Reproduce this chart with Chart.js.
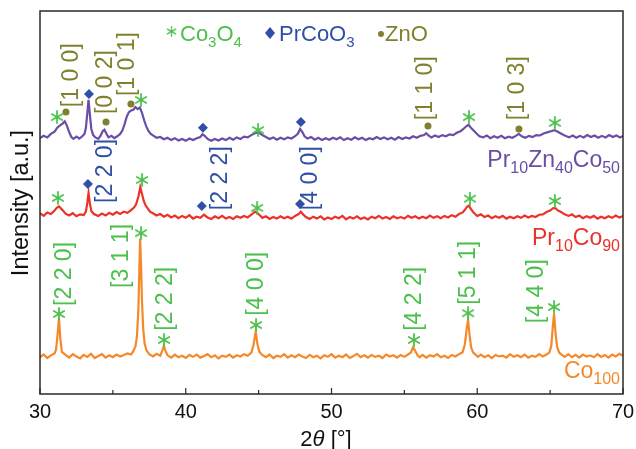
<!DOCTYPE html>
<html>
<head>
<meta charset="utf-8">
<script src="https://cdn.jsdelivr.net/npm/chart.js@4.4.1/dist/chart.umd.min.js"></script>
<style>
	body { margin: 0; background: #fff; }
	canvas { display: block; }
</style>
</head>
<body>
<canvas id="xrd" width="636" height="449"></canvas>
<script>
// 2θ [°] and intensity [a.u.] (offset traces, 0-100)
const co100 = [
	[30.0, 9.6], [30.25, 10.3], [30.5, 9.4], [30.75, 10.1], [31.0, 10.6], [31.1, 11.6], [31.2, 15.2], [31.3, 19.8], [31.4, 14.2], [31.5, 11.0],
	[31.75, 10.2], [32.0, 9.5], [32.25, 10.4], [32.5, 9.8], [32.75, 9.3], [33.0, 10.2], [33.25, 9.7], [33.5, 10.5], [33.75, 9.4], [34.0, 9.9],
	[34.25, 10.4], [34.5, 9.5], [34.75, 10.1], [35.0, 9.6], [35.25, 10.3], [35.5, 9.8], [35.75, 10.2], [36.0, 10.6], [36.25, 10.3], [36.4, 11.2],
	[36.55, 12.4], [36.65, 15.0], [36.75, 22.0], [36.82, 33.0], [36.87, 40.5], [36.93, 34.0], [37.0, 24.0], [37.08, 17.0], [37.18, 13.2], [37.3, 11.4],
	[37.5, 10.4], [37.75, 9.8], [38.0, 10.5], [38.25, 10.0], [38.4, 11.4], [38.5, 12.6], [38.6, 11.3], [38.75, 10.1], [39.0, 9.5], [39.25, 10.3],
	[39.5, 9.6], [39.75, 10.0], [40.0, 9.4], [40.25, 10.2], [40.5, 9.7], [40.75, 10.3], [41.0, 9.5], [41.25, 9.9], [41.5, 10.4], [41.75, 9.6],
	[42.0, 10.1], [42.25, 9.3], [42.5, 10.0], [42.75, 9.7], [43.0, 10.3], [43.25, 9.5], [43.5, 10.1], [43.75, 9.8], [44.0, 10.4], [44.25, 10.0],
	[44.5, 10.8], [44.65, 12.8], [44.8, 16.3], [44.92, 13.0], [45.05, 11.0], [45.25, 10.2], [45.5, 9.6], [45.75, 10.3], [46.0, 9.4], [46.25, 10.0],
	[46.5, 9.7], [46.75, 10.4], [47.0, 9.5], [47.25, 10.1], [47.5, 9.6], [47.75, 10.3], [48.0, 9.8], [48.25, 9.4], [48.5, 10.2], [48.75, 9.6],
	[49.0, 10.0], [49.25, 9.3], [49.5, 10.1], [49.75, 9.7], [50.0, 10.4], [50.25, 9.5], [50.5, 10.0], [50.75, 9.6], [51.0, 10.3], [51.25, 9.4],
	[51.5, 9.9], [51.75, 10.5], [52.0, 9.6], [52.25, 10.1], [52.5, 9.5], [52.75, 10.2], [53.0, 9.7], [53.25, 10.0], [53.5, 9.4], [53.75, 10.3],
	[54.0, 9.8], [54.25, 10.1], [54.5, 9.5], [54.75, 10.2], [55.0, 9.7], [55.25, 10.3], [55.45, 10.9], [55.6, 12.2], [55.72, 11.4], [55.9, 10.1],
	[56.05, 9.6], [56.25, 10.2], [56.5, 9.5], [56.75, 10.1], [57.0, 9.8], [57.25, 10.4], [57.5, 9.6], [57.75, 10.0], [58.0, 9.4], [58.25, 10.2],
	[58.5, 9.8], [58.75, 10.4], [59.0, 10.9], [59.15, 13.0], [59.28, 17.2], [59.37, 19.4], [59.47, 15.5], [59.58, 12.2], [59.72, 10.8], [59.9, 10.2],
	[60.05, 9.7], [60.25, 10.3], [60.5, 9.6], [60.75, 10.1], [61.0, 9.4], [61.25, 10.2], [61.5, 9.8], [61.75, 10.0], [62.0, 9.5], [62.25, 10.4],
	[62.5, 9.7], [62.75, 10.1], [63.0, 9.6], [63.25, 10.3], [63.5, 9.5], [63.75, 10.0], [64.0, 9.7], [64.25, 10.4], [64.5, 9.8], [64.75, 10.3],
	[64.95, 10.9], [65.08, 12.6], [65.18, 17.5], [65.27, 20.9], [65.37, 16.0], [65.48, 12.3], [65.62, 10.8], [65.8, 10.2], [66.0, 9.7], [66.25, 10.4],
	[66.5, 9.6], [66.75, 10.2], [67.0, 9.5], [67.25, 10.3], [67.5, 9.8], [67.75, 10.1], [68.0, 9.6], [68.25, 10.4], [68.5, 9.7], [68.75, 10.2],
	[69.0, 9.5], [69.25, 10.3], [69.5, 9.8], [69.75, 10.5], [70.0, 10.0]
];

const pr10co90 = [
	[30.0, 47.2], [30.25, 46.5], [30.5, 47.4], [30.75, 47.0], [31.0, 47.9], [31.15, 48.6], [31.3, 49.0], [31.45, 48.4], [31.6, 47.8], [31.75, 47.1],
	[32.0, 46.6], [32.25, 47.2], [32.5, 46.4], [32.75, 46.9], [33.0, 46.7], [33.15, 47.6], [33.25, 50.0], [33.33, 52.5], [33.42, 49.8], [33.52, 47.8],
	[33.7, 47.0], [34.0, 46.5], [34.25, 47.1], [34.5, 46.6], [34.75, 47.3], [35.0, 46.8], [35.25, 47.5], [35.5, 47.0], [35.75, 47.6], [36.0, 47.3],
	[36.25, 48.0], [36.45, 48.7], [36.6, 49.6], [36.75, 51.5], [36.88, 54.0], [37.0, 52.2], [37.12, 50.4], [37.25, 49.2], [37.4, 48.4], [37.55, 47.6],
	[37.75, 47.2], [38.0, 46.6], [38.25, 47.0], [38.5, 46.3], [38.75, 46.8], [39.0, 46.1], [39.25, 46.6], [39.5, 45.9], [39.75, 46.5], [40.0, 46.0],
	[40.25, 46.7], [40.5, 45.8], [40.75, 46.3], [41.0, 46.0], [41.25, 46.8], [41.5, 46.1], [41.75, 45.7], [42.0, 46.4], [42.25, 45.9], [42.5, 46.5],
	[42.75, 45.8], [43.0, 46.2], [43.25, 45.7], [43.5, 46.4], [43.75, 46.0], [44.0, 46.5], [44.25, 46.1], [44.5, 46.8], [44.75, 47.6], [44.9, 47.3],
	[45.1, 46.6], [45.25, 46.0], [45.5, 46.4], [45.75, 45.7], [46.0, 46.2], [46.25, 45.8], [46.5, 46.4], [46.75, 45.9], [47.0, 46.3], [47.25, 45.8],
	[47.5, 46.5], [47.75, 47.0], [47.9, 47.6], [48.05, 46.9], [48.25, 46.2], [48.5, 45.7], [48.75, 46.3], [49.0, 45.8], [49.25, 46.4], [49.5, 45.6],
	[49.75, 46.1], [50.0, 45.7], [50.25, 46.3], [50.5, 45.9], [50.75, 46.5], [51.0, 45.6], [51.25, 46.2], [51.5, 45.8], [51.75, 46.4], [52.0, 45.7],
	[52.25, 46.1], [52.5, 45.6], [52.75, 46.3], [53.0, 45.9], [53.25, 46.5], [53.5, 45.8], [53.75, 46.2], [54.0, 45.7], [54.25, 46.4], [54.5, 45.9],
	[54.75, 46.2], [55.0, 45.8], [55.25, 46.5], [55.5, 46.0], [55.75, 46.4], [56.0, 45.8], [56.25, 46.3], [56.5, 45.9], [56.75, 46.6], [57.0, 46.0],
	[57.25, 46.4], [57.5, 45.9], [57.75, 46.5], [58.0, 46.1], [58.25, 46.7], [58.5, 46.3], [58.75, 47.0], [59.0, 47.4], [59.15, 48.1], [59.3, 48.9],
	[59.42, 49.2], [59.55, 48.4], [59.7, 47.6], [59.85, 47.0], [60.0, 46.5], [60.25, 46.9], [60.5, 46.2], [60.75, 46.6], [61.0, 45.9], [61.25, 46.4],
	[61.5, 46.0], [61.75, 46.5], [62.0, 45.8], [62.25, 46.3], [62.5, 45.9], [62.75, 46.4], [63.0, 46.0], [63.25, 46.6], [63.5, 46.1], [63.75, 46.5],
	[64.0, 46.2], [64.25, 46.8], [64.5, 46.9], [64.75, 47.5], [65.0, 47.9], [65.2, 48.5], [65.35, 48.6], [65.5, 48.0], [65.75, 47.5], [66.0, 46.9],
	[66.25, 46.5], [66.5, 46.9], [66.75, 46.2], [67.0, 46.6], [67.25, 45.9], [67.5, 46.4], [67.75, 46.0], [68.0, 46.5], [68.25, 45.8], [68.5, 46.3],
	[68.75, 45.9], [69.0, 46.4], [69.25, 46.0], [69.5, 46.6], [69.75, 46.1], [70.0, 46.5]
];

const pr10zn40co50 = [
	[30.0, 66.8], [30.25, 67.4], [30.5, 67.0], [30.75, 67.9], [31.0, 68.5], [31.2, 69.6], [31.4, 70.2], [31.55, 70.6], [31.7, 71.2], [31.85, 70.0],
	[32.0, 68.4], [32.15, 67.1], [32.3, 66.6], [32.5, 67.2], [32.7, 66.7], [32.9, 67.3], [33.05, 67.9], [33.15, 69.5], [33.25, 73.5], [33.33, 76.8],
	[33.42, 73.0], [33.52, 69.2], [33.65, 67.6], [33.8, 67.0], [34.0, 66.6], [34.15, 67.4], [34.3, 68.6], [34.42, 69.0], [34.55, 68.0], [34.7, 67.0],
	[34.9, 67.4], [35.1, 66.8], [35.3, 67.3], [35.5, 67.9], [35.65, 68.8], [35.8, 70.4], [35.95, 72.4], [36.1, 73.6], [36.25, 74.0], [36.4, 74.2],
	[36.55, 74.9], [36.7, 74.4], [36.85, 74.8], [37.0, 73.4], [37.15, 71.4], [37.3, 69.8], [37.45, 68.6], [37.6, 67.9], [37.8, 67.4], [38.0, 66.9],
	[38.25, 67.1], [38.5, 66.5], [38.75, 66.9], [39.0, 66.3], [39.25, 66.8], [39.5, 66.2], [39.75, 66.6], [40.0, 66.1], [40.25, 66.7], [40.5, 66.3],
	[40.75, 66.8], [41.0, 67.1], [41.15, 67.8], [41.3, 67.4], [41.5, 66.6], [41.75, 66.1], [42.0, 66.6], [42.25, 66.2], [42.5, 66.7], [42.75, 66.3],
	[43.0, 66.9], [43.25, 66.4], [43.5, 67.0], [43.75, 66.6], [44.0, 67.2], [44.25, 67.0], [44.5, 67.6], [44.75, 68.1], [45.0, 68.3], [45.25, 67.6],
	[45.5, 67.1], [45.75, 66.6], [46.0, 67.0], [46.25, 66.4], [46.5, 66.9], [46.75, 66.5], [47.0, 67.0], [47.25, 66.7], [47.5, 67.3], [47.7, 68.0],
	[47.85, 69.2], [48.0, 68.4], [48.15, 67.3], [48.35, 66.7], [48.6, 67.1], [48.85, 66.4], [49.1, 66.9], [49.35, 66.3], [49.6, 66.8], [49.85, 66.4],
	[50.1, 66.9], [50.35, 66.5], [50.6, 67.0], [50.85, 66.3], [51.1, 66.8], [51.35, 66.4], [51.6, 67.0], [51.85, 66.5], [52.1, 66.9], [52.35, 66.3],
	[52.6, 66.8], [52.85, 66.5], [53.1, 67.1], [53.35, 66.6], [53.6, 67.0], [53.85, 66.5], [54.1, 66.9], [54.35, 66.4], [54.6, 67.1], [54.85, 66.6],
	[55.1, 67.0], [55.35, 66.7], [55.6, 67.3], [55.85, 66.9], [56.1, 67.4], [56.35, 67.6], [56.5, 68.1], [56.65, 67.5], [56.85, 67.0], [57.1, 67.5],
	[57.35, 67.1], [57.6, 67.6], [57.85, 67.3], [58.1, 67.8], [58.35, 67.6], [58.6, 68.2], [58.85, 68.6], [59.05, 69.2], [59.25, 69.9], [59.4, 70.3],
	[59.55, 69.6], [59.75, 68.8], [59.95, 68.0], [60.15, 67.3], [60.4, 67.0], [60.65, 67.5], [60.9, 66.8], [61.15, 67.3], [61.4, 66.9], [61.65, 67.4],
	[61.9, 66.8], [62.15, 67.2], [62.4, 66.9], [62.65, 67.4], [62.85, 67.9], [63.05, 67.3], [63.3, 66.9], [63.55, 67.4], [63.8, 67.1], [64.05, 67.6],
	[64.3, 67.5], [64.55, 68.0], [64.8, 68.3], [65.05, 68.6], [65.3, 68.9], [65.55, 68.4], [65.8, 67.9], [66.05, 67.4], [66.3, 67.0], [66.55, 67.5],
	[66.8, 66.9], [67.05, 67.4], [67.3, 67.0], [67.55, 67.6], [67.8, 67.1], [68.05, 67.5], [68.3, 66.9], [68.55, 67.4], [68.8, 67.0], [69.05, 67.6],
	[69.3, 67.1], [69.55, 67.5], [69.8, 67.0], [70.0, 67.4]
];

// phase markers [2θ, intensity]
const co3o4Marks = [
	[31.17, 72.3], [36.93, 76.8], [44.96, 68.9], [59.43, 72.3], [65.33, 70.8],
	[31.23, 51.2], [37.0, 55.9], [44.9, 48.6], [59.5, 51.0], [65.33, 50.4],
	[31.3, 20.9], [36.93, 42.0], [38.51, 14.1], [44.82, 18.0], [55.66, 14.1], [59.37, 21.1], [65.27, 22.7]
];
const prcoo3Marks = [
	[33.36, 78.3], [41.18, 69.5], [47.9, 71.0],
	[33.29, 54.8], [41.1, 49.1], [47.84, 49.6]
];
const znoMarks = [
	[31.78, 73.6], [34.53, 71.0], [36.24, 75.7], [56.62, 70.0], [62.86, 69.2]
];

// Miller index labels: text, 2θ, intensity where the label starts, phase
const hklLabels = [
	['[1 0 0]', 32.2, 74.9, 'zno'],
	['[0 0 2]', 34.53, 73.1, 'zno'],
	['[1 0 1]', 36.04, 77.8, 'zno'],
	['[1 1 0]', 56.48, 71.5, 'zno'],
	['[1 0 3]', 62.8, 71.5, 'zno'],
	['[2 2 0]', 34.53, 49.9, 'prcoo3'],
	['[2 2 2]', 42.42, 48.0, 'prcoo3'],
	['[4 0 0]', 48.6, 48.0, 'prcoo3'],
	['[2 2 0]', 31.7, 23.0, 'co3o4'],
	['[3 1 1]', 35.63, 27.7, 'co3o4'],
	['[2 2 2]', 38.64, 16.5, 'co3o4'],
	['[4 0 0]', 44.89, 20.4, 'co3o4'],
	['[4 2 2]', 55.73, 16.5, 'co3o4'],
	['[5 1 1]', 59.43, 23.3, 'co3o4'],
	['[4 4 0]', 64.1, 18.5, 'co3o4']
];

const xTicks = [30, 40, 50, 60, 70];
const xMinorTicks = [35, 45, 55, 65];

const FONT = '"Liberation Sans", Arial, Helvetica, sans-serif';
const colors = {
	co3o4: '#4cc04c',
	prcoo3: '#3050a8',
	zno: '#80802e',
	purple: '#6a4ea6',
	red: '#ec3129',
	orange: '#f5892a'
};

function makeAsterisk(size, color) {
	let c = document.createElement('canvas');
	c.width = size;
	c.height = size;
	let g = c.getContext('2d');
	let r = size / 2 - 1;
	g.strokeStyle = color;
	g.lineWidth = 1.8;
	g.lineCap = 'round';
	for (let i = 0; i < 3; i++) {
		let a = Math.PI / 2 + i * Math.PI / 3;
		g.beginPath();
		g.moveTo(size / 2 - r * Math.cos(a), size / 2 - r * Math.sin(a));
		g.lineTo(size / 2 + r * Math.cos(a), size / 2 + r * Math.sin(a));
		g.stroke();
	}
	return c;
}
const asterisk = makeAsterisk(14, colors.co3o4);

function toPoints(arr) {
	return arr.map(p => ({ x: p[0], y: p[1] }));
}

function drawRich(ctx, x, y, parts, size, align) {
	const subSize = Math.round(size * 0.7);
	let w = 0;
	parts.forEach(p => {
		ctx.font = (p[1] ? subSize : size) + 'px ' + FONT;
		w += ctx.measureText(p[0]).width;
	});
	let cx = align === 'right' ? x - w : x;
	ctx.textAlign = 'left';
	ctx.textBaseline = 'alphabetic';
	parts.forEach(p => {
		ctx.font = (p[1] ? subSize : size) + 'px ' + FONT;
		ctx.fillText(p[0], cx, p[1] ? y + size * 0.27 : y);
		cx += ctx.measureText(p[0]).width;
	});
	return cx;
}

const decorations = {
	id: 'decorations',
	afterDraw(chart) {
		const ctx = chart.ctx;
		const area = chart.chartArea;
		const xs = chart.scales.x;
		const ys = chart.scales.y;
		ctx.save();

		// frame
		ctx.strokeStyle = '#2a2a2a';
		ctx.lineWidth = 1.5;
		ctx.strokeRect(area.left, area.top, area.right - area.left, area.bottom - area.top);

		// inward ticks
		ctx.lineWidth = 1.2;
		xTicks.forEach(t => {
			let px = xs.getPixelForValue(t);
			ctx.beginPath();
			ctx.moveTo(px, area.bottom);
			ctx.lineTo(px, area.bottom - 6);
			ctx.stroke();
		});
		xMinorTicks.forEach(t => {
			let px = xs.getPixelForValue(t);
			ctx.beginPath();
			ctx.moveTo(px, area.bottom);
			ctx.lineTo(px, area.bottom - 4);
			ctx.stroke();
		});

		// tick labels
		ctx.fillStyle = '#111';
		ctx.font = '20px ' + FONT;
		ctx.textAlign = 'center';
		ctx.textBaseline = 'middle';
		xTicks.forEach(t => {
			ctx.fillText(String(t), xs.getPixelForValue(t), area.bottom + 18);
		});

		// x title: 2θ [°]
		ctx.textBaseline = 'alphabetic';
		ctx.textAlign = 'left';
		ctx.font = '22px ' + FONT;
		let w2 = ctx.measureText('2').width;
		let wB = ctx.measureText(' [°]').width;
		ctx.font = 'italic 22px ' + FONT;
		let wT = ctx.measureText('θ').width;
		let tx = 326 - (w2 + wT + wB) / 2;
		ctx.font = '22px ' + FONT;
		ctx.fillText('2', tx, 446);
		ctx.font = 'italic 22px ' + FONT;
		ctx.fillText('θ', tx + w2, 446);
		ctx.font = '22px ' + FONT;
		ctx.fillText(' [°]', tx + w2 + wT, 446);

		// y title
		ctx.save();
		ctx.translate(22, 203);
		ctx.rotate(-Math.PI / 2);
		ctx.textAlign = 'center';
		ctx.textBaseline = 'middle';
		ctx.font = '23.5px ' + FONT;
		ctx.fillText('Intensity [a.u.]', 0, 0);
		ctx.restore();

		// Miller indices
		ctx.font = '23px ' + FONT;
		hklLabels.forEach(l => {
			ctx.save();
			ctx.translate(xs.getPixelForValue(l[1]), ys.getPixelForValue(l[2]));
			ctx.rotate(-Math.PI / 2);
			ctx.fillStyle = colors[l[3]];
			ctx.textAlign = 'left';
			ctx.textBaseline = 'middle';
			ctx.fillText(l[0], 0, 0);
			ctx.restore();
		});

		// phase legend
		ctx.drawImage(asterisk, 166, 26, 11, 11);
		ctx.fillStyle = colors.co3o4;
		drawRich(ctx, 180, 41, [['Co', 0], ['3', 1], ['O', 0], ['4', 1]], 22);
		ctx.fillStyle = colors.prcoo3;
		ctx.beginPath();
		ctx.moveTo(270, 27);
		ctx.lineTo(275, 33);
		ctx.lineTo(270, 39);
		ctx.lineTo(265, 33);
		ctx.closePath();
		ctx.fill();
		drawRich(ctx, 279, 41, [['PrCoO', 0], ['3', 1]], 22);
		ctx.fillStyle = colors.zno;
		ctx.beginPath();
		ctx.arc(381, 34, 3, 0, Math.PI * 2);
		ctx.fill();
		drawRich(ctx, 385, 41, [['ZnO', 0]], 22);

		// sample names
		ctx.fillStyle = colors.purple;
		drawRich(ctx, 620, 167, [['Pr', 0], ['10', 1], ['Zn', 0], ['40', 1], ['Co', 0], ['50', 1]], 23, 'right');
		ctx.fillStyle = colors.red;
		drawRich(ctx, 620, 245, [['Pr', 0], ['10', 1], ['Co', 0], ['90', 1]], 23, 'right');
		ctx.fillStyle = colors.orange;
		drawRich(ctx, 620, 378, [['Co', 0], ['100', 1]], 23, 'right');

		ctx.restore();
	}
};

function lineSet(label, arr, color) {
	return {
		label: label,
		data: toPoints(arr),
		showLine: true,
		borderColor: color,
		borderWidth: 2.2,
		pointRadius: 0,
		tension: 0
	};
}

new Chart(document.getElementById('xrd'), {
	type: 'scatter',
	data: {
		datasets: [
			{
				label: 'Co3O4',
				data: toPoints(co3o4Marks),
				pointStyle: asterisk,
				pointRadius: 6
			},
			{
				label: 'PrCoO3',
				data: toPoints(prcoo3Marks),
				pointStyle: 'rectRot',
				pointRadius: 5,
				backgroundColor: colors.prcoo3,
				borderColor: colors.prcoo3,
				borderWidth: 0
			},
			{
				label: 'ZnO',
				data: toPoints(znoMarks),
				pointStyle: 'circle',
				pointRadius: 3.5,
				backgroundColor: colors.zno,
				borderColor: colors.zno,
				borderWidth: 0
			},
			lineSet('Pr10Zn40Co50', pr10zn40co50, colors.purple),
			lineSet('Pr10Co90', pr10co90, colors.red),
			lineSet('Co100', co100, colors.orange)
		]
	},
	options: {
		responsive: false,
		animation: false,
		layout: {
			padding: { left: 40, right: 13, top: 11, bottom: 55 }
		},
		plugins: {
			legend: { display: false },
			tooltip: { enabled: false }
		},
		scales: {
			x: { type: 'linear', min: 30, max: 70, display: false },
			y: { type: 'linear', min: 0, max: 100, display: false }
		}
	},
	plugins: [decorations]
});
</script>
</body>
</html>
